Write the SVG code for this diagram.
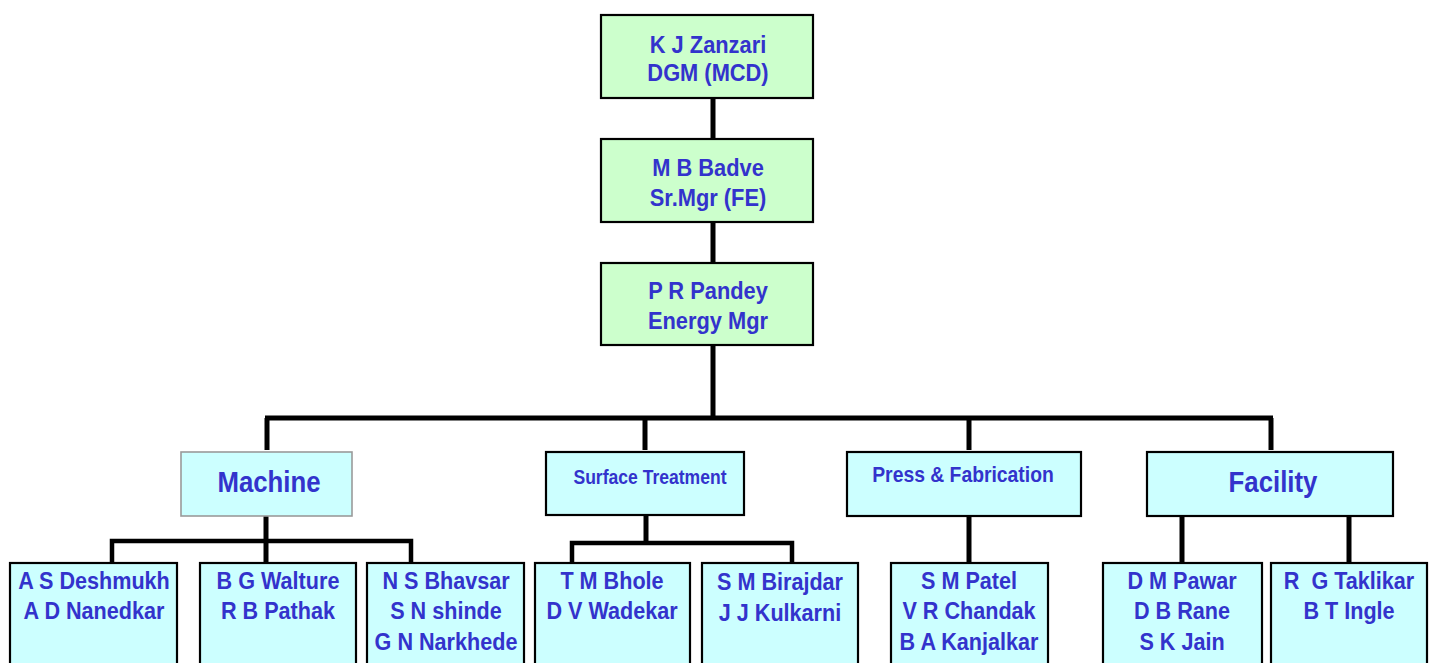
<svg xmlns="http://www.w3.org/2000/svg" width="1432" height="663" viewBox="0 0 1432 663">
<style>
.g{fill:#ccffcc;stroke:#000;stroke-width:2.2}
.c{fill:#ccffff;stroke:#000;stroke-width:2.2}
.cg{fill:#ccffff;stroke:#9a9a9a;stroke-width:1.6}
.t{font-family:"Liberation Sans",Arial,sans-serif;font-weight:bold;fill:#3333cc;text-anchor:middle}
.s24{font-size:24px}
.s30{font-size:30px}
.ln{stroke:#000;stroke-width:5;fill:none;stroke-linecap:butt}
.ln4{stroke:#000;stroke-width:4.5;fill:none}
</style>
<rect width="1432" height="663" fill="#fff"/>
<g id="connectors">
<line class="ln" x1="713" y1="98" x2="713" y2="139"/>
<line class="ln" x1="713" y1="222" x2="713" y2="263"/>
<line class="ln" x1="713" y1="345" x2="713" y2="418"/>
<line class="ln" x1="265" y1="418" x2="1273" y2="418"/>
<line class="ln" x1="267" y1="418" x2="267" y2="450"/>
<line class="ln" x1="645" y1="418" x2="645" y2="450"/>
<line class="ln" x1="969" y1="418" x2="969" y2="450"/>
<line class="ln" x1="1271" y1="418" x2="1271" y2="450"/>
<line class="ln" x1="266" y1="516" x2="266" y2="563"/>
<polyline class="ln4" points="112,563 112,541 411,541 411,563"/>
<line class="ln" x1="646" y1="515" x2="646" y2="543"/>
<polyline class="ln4" points="572,563 572,543 792,543 792,563"/>
<line class="ln" x1="969" y1="516" x2="969" y2="563"/>
<line class="ln" x1="1182" y1="516" x2="1182" y2="563"/>
<line class="ln" x1="1349" y1="512" x2="1349" y2="563"/>
</g>
<g id="n-zanzari"><rect class="g" x="601" y="15" width="212" height="83"/>
<g transform="translate(708,0) scale(0.91,1)"><text class="t s24" x="0" y="53">K J Zanzari</text>
<text class="t s24" x="0" y="81">DGM (MCD)</text></g></g>
<g id="n-badve"><rect class="g" x="601" y="139" width="212" height="83"/>
<g transform="translate(708,0) scale(0.91,1)"><text class="t s24" x="0" y="176">M B Badve</text>
<text class="t s24" x="0" y="206">Sr.Mgr (FE)</text></g></g>
<g id="n-pandey"><rect class="g" x="601" y="263" width="212" height="82"/>
<g transform="translate(708,0) scale(0.91,1)"><text class="t s24" x="0" y="299">P R Pandey</text>
<text class="t s24" x="0" y="329">Energy Mgr</text></g></g>
<g id="n-machine"><rect class="cg" x="181" y="452" width="171" height="64"/>
<g transform="translate(269,0) scale(0.86,1)"><text class="t s30" x="0" y="492">Machine</text></g></g>
<g id="n-surface"><rect class="c" x="546" y="452" width="198" height="63"/>
<g transform="translate(650,0) scale(0.9,1)"><text class="t" font-size="19.5" x="0" y="484">Surface Treatment</text></g></g>
<g id="n-press"><rect class="c" x="847" y="452" width="234" height="64"/>
<g transform="translate(963,0) scale(0.9,1)"><text class="t" font-size="21.5" x="0" y="482">Press &amp; Fabrication</text></g></g>
<g id="n-facility"><rect class="c" x="1147" y="452" width="246" height="64"/>
<g transform="translate(1273,0) scale(0.86,1)"><text class="t s30" x="0" y="492">Facility</text></g></g>
<g id="n-deshmukh"><rect class="c" x="10" y="563" width="167" height="110"/>
<g transform="translate(94,0) scale(0.9,1)"><text class="t s24" x="0" y="589">A S Deshmukh</text>
<text class="t s24" x="0" y="619">A D Nanedkar</text></g></g>
<g id="n-walture"><rect class="c" x="200" y="563" width="156" height="110"/>
<g transform="translate(278,0) scale(0.9,1)"><text class="t s24" x="0" y="589">B G Walture</text>
<text class="t s24" x="0" y="619">R B Pathak</text></g></g>
<g id="n-bhavsar"><rect class="c" x="367" y="563" width="157" height="110"/>
<g transform="translate(446,0) scale(0.9,1)"><text class="t s24" x="0" y="589">N S Bhavsar</text>
<text class="t s24" x="0" y="619">S N shinde</text>
<text class="t s24" x="0" y="650">G N Narkhede</text></g></g>
<g id="n-bhole"><rect class="c" x="535" y="563" width="155" height="110"/>
<g transform="translate(612,0) scale(0.9,1)"><text class="t s24" x="0" y="589">T M Bhole</text>
<text class="t s24" x="0" y="619">D V Wadekar</text></g></g>
<g id="n-birajdar"><rect class="c" x="702" y="563" width="156" height="110"/>
<g transform="translate(780,0) scale(0.9,1)"><text class="t s24" x="0" y="590">S M Birajdar</text>
<text class="t s24" x="0" y="621">J J Kulkarni</text></g></g>
<g id="n-patel"><rect class="c" x="891" y="563" width="157" height="110"/>
<g transform="translate(969,0) scale(0.9,1)"><text class="t s24" x="0" y="589">S M Patel</text>
<text class="t s24" x="0" y="619">V R Chandak</text>
<text class="t s24" x="0" y="650">B A Kanjalkar</text></g></g>
<g id="n-pawar"><rect class="c" x="1103" y="563" width="159" height="110"/>
<g transform="translate(1182,0) scale(0.9,1)"><text class="t s24" x="0" y="589">D M Pawar</text>
<text class="t s24" x="0" y="619">D B Rane</text>
<text class="t s24" x="0" y="650">S K Jain</text></g></g>
<g id="n-taklikar"><rect class="c" x="1271" y="563" width="156" height="110"/>
<g transform="translate(1349,0) scale(0.9,1)"><text class="t s24" x="0" y="589" xml:space="preserve">R  G Taklikar</text>
<text class="t s24" x="0" y="619">B T Ingle</text></g></g>
</svg>
